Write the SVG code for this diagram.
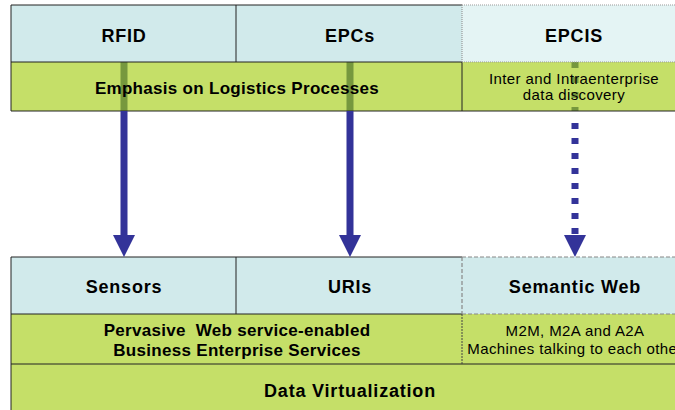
<svg xmlns="http://www.w3.org/2000/svg" width="675" height="410" viewBox="0 0 675 410">
<style>
.cy{fill:#d1eaeb}
.cyl{fill:#e4f4f4}
.gr{fill:#c5df68}
.ln{stroke:#222;stroke-width:1;fill:none}
.dg{stroke:#888;stroke-width:1.2;stroke-dasharray:4 2;fill:none}
.dt{stroke:#444;stroke-width:1;stroke-dasharray:2 1;fill:none}
.t{font-family:"Liberation Sans",Arial,sans-serif;font-weight:bold;font-size:18px;letter-spacing:0.8px;text-anchor:middle;fill:#000}
.m{font-family:"Liberation Sans",Arial,sans-serif;font-weight:bold;font-size:17px;letter-spacing:0.3px;text-anchor:middle;fill:#000}
.s{font-family:"Liberation Sans",Arial,sans-serif;font-size:15px;letter-spacing:0.4px;text-anchor:middle;fill:#000}
.sh{stroke:#333399;stroke-width:7;fill:none}
.ol{stroke:#76983e;stroke-width:7;fill:none}
.hd{fill:#333399}
</style>
<g id="top">
<g id="rfid"><rect class="cy" x="11" y="5" width="225" height="57"/><text class="t" x="124" y="41.5">RFID</text></g>
<g id="epcs"><rect class="cy" x="236" y="5" width="226" height="57"/><text class="t" x="350" y="41.5">EPCs</text></g>
<g id="epcis"><rect class="cyl" x="462" y="5" width="220" height="57"/><text class="t" x="574" y="41.5">EPCIS</text></g>
<g id="logistics"><rect class="gr" x="11" y="62" width="451" height="49"/><path class="ol" d="M124 62V111M350 62V111"/><text class="m" x="237" y="94">Emphasis on Logistics Processes</text></g>
<g id="discovery"><rect class="gr" x="462" y="62" width="220" height="49"/><path class="ol" d="M575 62V111" style="stroke-dasharray:6 9"/><text class="s" x="574" y="84">Inter and Intraenterprise</text><text class="s" x="574" y="100">data discovery</text></g>
<path class="ln" d="M11 5H462M11 5V111H680M236 5V62M11 62H462M462 62V111"/>
<path class="dg" d="M462 5H680M462 5V62M462 62H680" style="stroke-dasharray:1 1;stroke:#999"/>
</g>
<g id="bottom">
<g id="sensors"><rect class="cy" x="11" y="257" width="225" height="57"/><text class="t" x="124" y="292.5">Sensors</text></g>
<g id="uris"><rect class="cy" x="236" y="257" width="226" height="57"/><text class="t" x="350" y="292.5">URIs</text></g>
<g id="semweb"><rect class="cy" x="462" y="257" width="220" height="57"/><text class="t" x="575" y="292.5">Semantic Web</text></g>
<g id="pervasive"><rect class="gr" x="11" y="314" width="451" height="50"/><text class="m" x="237" y="335.5">Pervasive&#160; Web service-enabled</text><text class="m" x="237" y="355.5">Business Enterprise Services</text></g>
<g id="m2m"><rect class="gr" x="462" y="314" width="220" height="50"/><text class="s" x="575" y="335.5">M2M, M2A and A2A</text><text class="s" x="575" y="353.5">Machines talking to each other</text></g>
<g id="virt"><rect class="gr" x="11" y="364" width="671" height="50"/><text class="t" x="350" y="396.5">Data Virtualization</text></g>
<path class="ln" d="M11 257H462M11 257V412M236 257V314M11 314H462M11 364H680"/>
<path class="dg" d="M462 257H680M462 257V314M462 314H680"/>
<path class="dt" d="M462 314V364"/>
</g>
<g id="connectors">
<path class="sh" d="M124 111V236M350 111V236"/>
<path class="hd" d="M113 235H135L124 257Z M339 235H361L350 257Z M564 235H586L575 257Z"/>
<path class="sh" d="M575 122V236" style="stroke-dasharray:6 9;stroke-dashoffset:-1"/>
</g>
</svg>
